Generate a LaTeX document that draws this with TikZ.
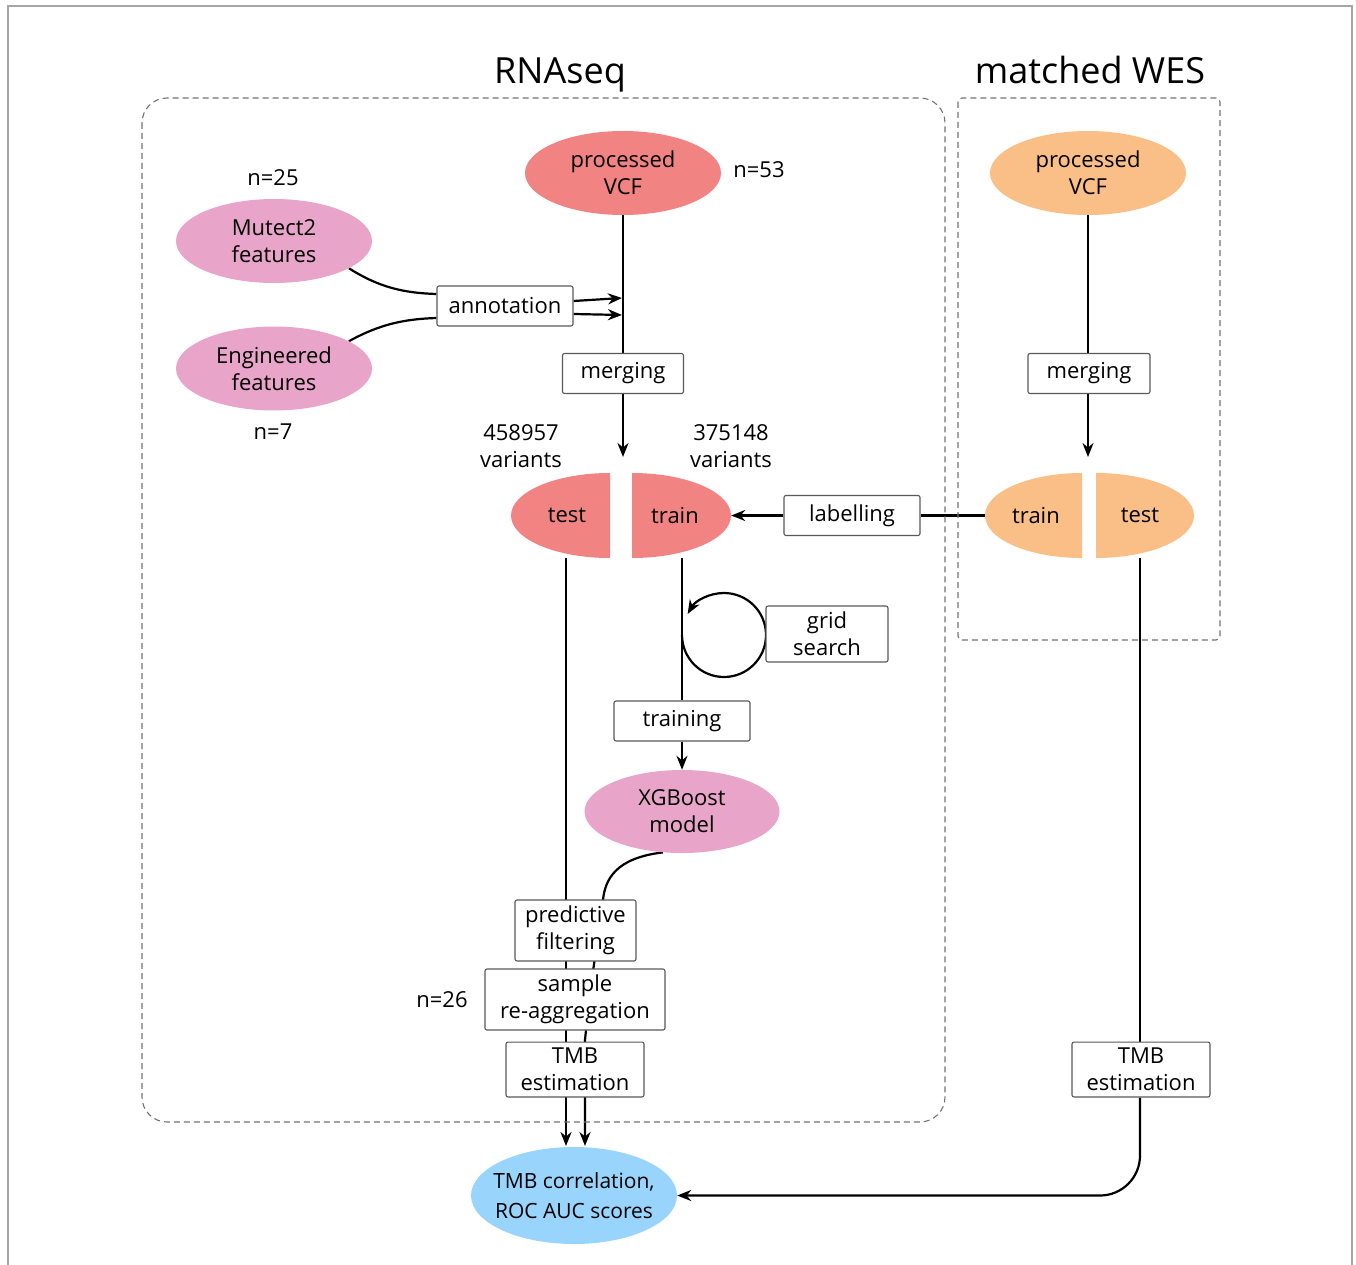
\documentclass[tikz,border=0pt]{standalone}
\usepackage{fontspec}
\setmainfont{Open Sans}
\usetikzlibrary{arrows.meta,shapes.geometric,backgrounds}
\definecolor{rnared}{RGB}{242,131,131}
\definecolor{wesorange}{RGB}{250,190,135}
\definecolor{featpink}{RGB}{232,165,201}
\definecolor{scoreblue}{RGB}{152,212,251}
\tikzset{
  blob/.style={ellipse, minimum width=196, minimum height=84, inner sep=0pt, align=center},
  half/.style={minimum height=85, inner sep=0pt},
  stepbox/.style={draw=black!65, fill=white, line width=1.1pt, rounded corners=2pt, align=center,
    minimum height=40, inner xsep=8pt, inner ysep=6pt},
  region/.style={draw=black!55, line width=1.1pt, dash pattern=on 6pt off 4pt},
  title/.style={font=\fontsize{36}{40}\selectfont, anchor=base},
  ln/.style={line width=2.2pt},
  arr/.style={ln, -{Stealth[length=14pt,width=11pt]}},
}
\begin{document}
\begin{tikzpicture}[x=1pt,y=-1pt,font=\fontsize{22}{27}\selectfont]
\useasboundingbox (0,0) rectangle (1356,1265);
\draw[black!35,line width=1.5pt] (8,6) rectangle (1352,1300);
% titles and regions
\node[title] (rnatitle) at (560,84) {RNAseq};
\node[title] (westitle) at (1090,84) {matched WES};
\draw[region, rounded corners=25pt] (142,98) rectangle (945,1122);
\draw[region, rounded corners=4pt] (958,98) rectangle (1220,640);
% ellipses
\node[blob, fill=rnared] (rvcf) at (623,173) {processed\\VCF};
\node[blob, fill=featpink] (mutect) at (274,241) {Mutect2\\features};
\node[blob, fill=featpink] (engin) at (274,368.5) {Engineered\\features};
\node[blob, fill=wesorange] (wvcf) at (1088,173) {processed\\VCF};
\node[blob, fill=featpink, minimum width=195, minimum height=83] (xgb) at (682,811.5) {XGBoost\\model};
\node[blob, fill=scoreblue, minimum width=206, minimum height=97, inner xsep=-14pt, inner ysep=8pt,
  font=\fontsize{21}{30}\selectfont] (score) at (574,1195.5) {TMB correlation,\\ROC AUC scores};
% split sets
\fill[rnared] (610,473) arc[start angle=90,end angle=270,x radius=99pt,y radius=42.5pt] -- cycle;
\fill[rnared] (632,473) arc[start angle=90,end angle=-90,x radius=99pt,y radius=42.5pt] -- cycle;
\fill[wesorange] (1082,473) arc[start angle=90,end angle=270,x radius=97pt,y radius=42.5pt] -- cycle;
\fill[wesorange] (1096,473) arc[start angle=90,end angle=-90,x radius=98pt,y radius=42.5pt] -- cycle;
\node[half, minimum width=100] (rtest) at (567,515.5) {test};
\node[half, minimum width=112] (rtrain) at (675,515.5) {train};
\node[half, minimum width=102] (wtrain) at (1036,515.5) {train};
\node[half, minimum width=100] (wtest) at (1140,515.5) {test};
% counts
\node (n25) at (273,178) {n=25};
\node (n53) at (759,170) {n=53};
\node (n7) at (273,432) {n=7};
\node (n26) at (442,1000) {n=26};
\node[align=center] (ntest) at (521,446) {458957\\variants};
\node[align=center] (ntrain) at (731,446) {375148\\variants};
% steps
\node[stepbox, minimum width=136] (annot) at (505,306) {annotation};
\node[stepbox, minimum width=121] (rmerge) at (623,373.5) {merging};
\node[stepbox, minimum width=136] (label) at (852,515.5) {labelling};
\node[stepbox, minimum width=122] (grid) at (827,634) {grid\\search};
\node[stepbox, minimum width=136] (train) at (682,721) {training};
\node[stepbox, minimum width=121] (pred) at (575.5,930.5) {predictive\\filtering};
\node[stepbox, minimum width=180] (reagg) at (575,999.5) {sample\\re-aggregation};
\node[stepbox, minimum width=138] (rtmb) at (575,1069.5) {TMB\\estimation};
\node[stepbox, minimum width=122] (wmerge) at (1089,373.5) {merging};
\node[stepbox, minimum width=138] (wtmb) at (1141,1069.5) {TMB\\estimation};
\coordinate (rjoin) at (623,457);
\coordinate (wjoin) at (1088,457);
\coordinate (rhub1) at (622,298);
\coordinate (rhub2) at (622,315);
\coordinate (loopin) at (682,635);
\coordinate (sin1) at (566,1146);
\coordinate (sin2) at (585,1146);
% connectors
\begin{scope}[on background layer]
\draw[arr] (rvcf.south) -- (rjoin);
\draw[ln] (mutect.-20) .. controls (380,288) and (405,293) .. ([yshift=12pt]annot.west);
\draw[ln] (engin.20) .. controls (380,324) and (405,319) .. ([yshift=-12pt]annot.west);
\draw[arr] ([yshift=5pt]annot.east) -- (rhub1);
\draw[arr] ([yshift=-8pt]annot.east) -- (rhub2);
\draw[arr] (wvcf.south) -- (wjoin);
\draw[ln] (wtrain.west) -- (label.east);
\draw[arr] (label.west) -- (rtrain.east);
\draw[ln] (rtrain.south -| train.north) -- (train.north);
\draw[arr] (train.south) -- (xgb.north);
\draw[arr] (loopin) arc[start angle=180,end angle=510,radius=42pt];
\draw[arr] (rtest.south -| sin1) -- (sin1);
\draw[arr] (xgb.-115) .. controls (615,858) and (605,880) .. (603,900) -- (589,1000) -- (585,1040) -- (sin2);
\draw[ln] (wtest.south) -- (wtest.south |- wtmb.north);
\draw[arr, rounded corners=40pt] (wtest.south |- wtmb.south) |- (score.east);
\end{scope}
\end{tikzpicture}
\end{document}
